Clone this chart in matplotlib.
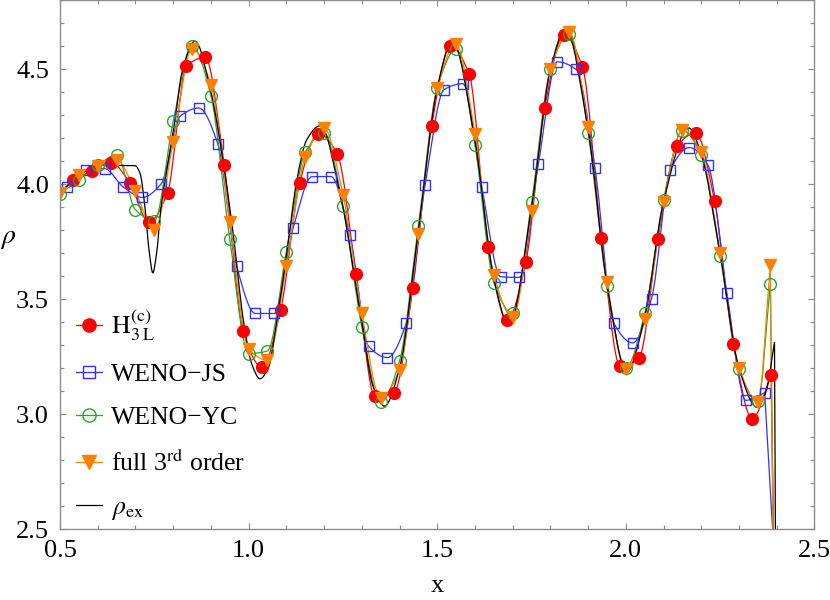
import numpy as np
import matplotlib
matplotlib.use('Agg')
import matplotlib.pyplot as plt
from matplotlib.path import Path
from matplotlib.patches import PathPatch
from matplotlib.lines import Line2D
from matplotlib.ticker import MultipleLocator, FormatStrFormatter

plt.rcParams['font.family'] = ['Liberation Serif', 'DejaVu Serif']
plt.rcParams['mathtext.fontset'] = 'stix'

# H_3L^(c) (red, filled circles)
h3l_x = [0.535, 0.585, 0.635, 0.685, 0.735, 0.785, 0.835, 0.885, 0.935, 0.985,
         1.035, 1.085, 1.135, 1.185, 1.235, 1.285, 1.335, 1.385, 1.435, 1.485,
         1.535, 1.585, 1.635, 1.685, 1.735, 1.785, 1.835, 1.885, 1.935, 1.985,
         2.035, 2.085, 2.135, 2.185, 2.235, 2.285, 2.335, 2.385]
h3l_y = [4.020, 4.059, 4.094, 4.007, 3.836, 3.963, 4.514, 4.553, 4.085, 3.363,
         3.205, 3.454, 4.005, 4.220, 4.133, 3.610, 3.077, 3.092, 3.547, 4.252,
         4.601, 4.478, 3.729, 3.409, 3.663, 4.332, 4.650, 4.510, 3.768, 3.208,
         3.246, 3.764, 4.165, 4.223, 3.928, 3.304, 2.980, 3.172]

# WENO-JS (blue, open squares)
js_x = [0.518, 0.568, 0.618, 0.668, 0.718, 0.768, 0.818, 0.868, 0.918, 0.968,
        1.018, 1.068, 1.118, 1.168, 1.218, 1.268, 1.318, 1.368, 1.418, 1.468,
        1.518, 1.568, 1.618, 1.668, 1.718, 1.768, 1.818, 1.868, 1.918, 1.968,
        2.018, 2.068, 2.118, 2.168, 2.218, 2.268, 2.318, 2.368]
js_y = [3.990, 4.063, 4.068, 3.988, 3.943, 4.002, 4.296, 4.332, 4.177, 3.646,
        3.438, 3.438, 3.809, 4.033, 4.034, 3.780, 3.295, 3.246, 3.397, 3.998,
        4.412, 4.438, 3.990, 3.598, 3.595, 4.089, 4.533, 4.500, 4.071, 3.397,
        3.310, 3.503, 4.063, 4.160, 4.082, 3.525, 3.060, 3.093]

# WENO-YC (green, open circles) and full 3rd order (orange, triangles)
yc_x = [0.50, 0.55, 0.60, 0.65, 0.70, 0.75, 0.80, 0.85, 0.90, 0.95,
        1.00, 1.05, 1.10, 1.15, 1.20, 1.25, 1.30, 1.35, 1.40, 1.45,
        1.50, 1.55, 1.60, 1.65, 1.70, 1.75, 1.80, 1.85, 1.90, 1.95,
        2.00, 2.05, 2.10, 2.15, 2.20, 2.25, 2.30, 2.35, 2.383]
yc_y = [3.958, 4.020, 4.082, 4.129, 3.889, 3.842, 4.274, 4.601, 4.386, 3.762,
        3.263, 3.275, 3.707, 4.139, 4.223, 3.906, 3.380, 3.052, 3.231, 3.819,
        4.420, 4.587, 4.172, 3.572, 3.438, 3.921, 4.503, 4.655, 4.223, 3.557,
        3.202, 3.438, 3.932, 4.234, 4.126, 3.688, 3.198, 3.055, 3.566]
f3_x = yc_x
f3_y = [3.964, 4.041, 4.078, 4.107, 3.969, 3.801, 4.182, 4.590, 4.434, 3.838,
        3.285, 3.234, 3.646, 4.119, 4.245, 3.954, 3.438, 3.071, 3.194, 3.783,
        4.417, 4.609, 4.219, 3.605, 3.421, 3.886, 4.500, 4.662, 4.248, 3.576,
        3.198, 3.412, 3.921, 4.235, 4.139, 3.703, 3.202, 3.052, 3.649]

# exact solution (black line)
ex_x = [0.500, 0.566, 0.619, 0.664, 0.699, 0.712, 0.725, 0.737, 0.746, 0.756,
        0.768, 0.780, 0.805, 0.823, 0.858, 0.899, 0.933, 0.960, 0.986, 1.008,
        1.030, 1.053, 1.075, 1.101, 1.128, 1.154, 1.190, 1.246, 1.300, 1.330,
        1.360, 1.400, 1.450, 1.500, 1.540, 1.600, 1.650, 1.690, 1.750, 1.800,
        1.840, 1.900, 1.950, 2.003, 2.050, 2.100, 2.167, 2.200, 2.250, 2.300,
        2.348, 2.372, 2.394]
ex_y = [3.965, 4.056, 4.085, 4.082, 4.081, 4.049, 3.903, 3.700, 3.615, 3.700,
        3.903, 4.030, 4.281, 4.485, 4.623, 4.410, 4.093, 3.772, 3.409, 3.220,
        3.154, 3.205, 3.409, 3.700, 4.020, 4.194, 4.255, 3.930, 3.400, 3.120,
        3.035, 3.200, 3.800, 4.420, 4.623, 4.190, 3.590, 3.387, 3.900, 4.500,
        4.675, 4.235, 3.565, 3.183, 3.425, 3.925, 4.245, 4.130, 3.695, 3.200,
        3.030, 3.100, 3.314]

# where each line leaves the plot at the shock
h3l_end = (2.393, 2.3)
js_end = (2.396, 2.3)
yc_end = (2.392, 2.3)
f3_end = (2.391, 2.3)
ex_end = (2.397, 2.3)
line_start = (0.500, 3.962)


def smooth_path(x, y, start=None, end=None):
    # monotone cubic (Fritsch-Carlson) through the points, drawn as bezier pieces
    x = np.asarray(x, float)
    y = np.asarray(y, float)
    h = np.diff(x)
    d = np.diff(y) / h
    m = np.empty(len(x))
    m[0], m[-1] = d[0], d[-1]
    for i in range(1, len(x) - 1):
        if d[i - 1] * d[i] <= 0:
            m[i] = 0.0
        else:
            w1 = 2 * h[i] + h[i - 1]
            w2 = h[i] + 2 * h[i - 1]
            m[i] = (w1 + w2) / (w1 / d[i - 1] + w2 / d[i])
    verts, codes = [], []
    if start is not None:
        verts += [start, (x[0], y[0])]
        codes += [Path.MOVETO, Path.LINETO]
    else:
        verts.append((x[0], y[0]))
        codes.append(Path.MOVETO)
    for i in range(len(x) - 1):
        verts += [(x[i] + h[i] / 3, y[i] + m[i] * h[i] / 3),
                  (x[i + 1] - h[i] / 3, y[i + 1] - m[i + 1] * h[i] / 3),
                  (x[i + 1], y[i + 1])]
        codes += [Path.CURVE4] * 3
    if end is not None:
        verts.append(end)
        codes.append(Path.LINETO)
    return Path(verts, codes)


fig = plt.figure(figsize=(8.3, 6.0), dpi=100)
ax = fig.add_axes([0.0723, 0.1183, 0.9090, 0.8809])

series = [
    (h3l_x, h3l_y, line_start, h3l_end, '#ff0000', 'o', 8.5, '#ff0000', r'$\mathrm{H}_{3\;\mathrm{L}}^{(\mathrm{c})}$'),
    (js_x, js_y, line_start, js_end, '#3030ff', 's', 7, 'none', 'WENO\u2212JS'),
    (yc_x, yc_y, None, yc_end, '#2aa52a', 'o', 8.5, 'none', 'WENO\u2212YC'),
    (f3_x, f3_y, None, f3_end, '#ff8000', 'v', 9, '#ff8000', r'full 3$^{\mathrm{rd}}$ order'),
]

handles = []
for xs, ys, st, en, col, mk, ms, fc, lab in series:
    ax.add_patch(PathPatch(smooth_path(xs, ys, st, en), fill=False, edgecolor=col, lw=0.9))
    ax.plot(xs, ys, ls='none', marker=mk, ms=ms, mfc=fc, mec=col, mew=1.0)
    handles.append(Line2D([], [], color=col, lw=0.9, marker=mk, ms=ms + 1, mfc=fc, mec=col, mew=1.0, label=lab))

ax.add_patch(PathPatch(smooth_path(ex_x, ex_y, None, ex_end), fill=False, edgecolor='black', lw=0.9))
handles.append(Line2D([], [], color='black', lw=0.9, label=r'$\rho_{\mathrm{ex}}$'))

ax.set_xlim(0.5, 2.5)
ax.set_ylim(2.5, 4.8)
ax.xaxis.set_major_locator(MultipleLocator(0.5))
ax.xaxis.set_minor_locator(MultipleLocator(0.1))
ax.yaxis.set_major_locator(MultipleLocator(0.5))
ax.yaxis.set_minor_locator(MultipleLocator(0.1))
ax.xaxis.set_major_formatter(FormatStrFormatter('%.1f'))
ax.yaxis.set_major_formatter(FormatStrFormatter('%.1f'))

for sp in ax.spines.values():
    sp.set_color('#8c8c8c')
    sp.set_linewidth(1.0)
ax.tick_params(which='both', direction='in', top=True, right=True, color='#8c8c8c', labelsize=19)
ax.tick_params(which='major', length=4.5, width=0.8, pad=8)
ax.tick_params(which='minor', length=3, width=0.8)

ax.set_xlabel('x', fontsize=19, labelpad=9)
ax.set_ylabel(r'$\rho$', fontsize=20, rotation=0, va='center')
ax.yaxis.set_label_coords(-0.069, 0.55)

ax.legend(handles=handles, loc='lower left', bbox_to_anchor=(0.001, -0.016), frameon=False,
          fontsize=18.5, handlelength=1.0, handletextpad=0.35, labelspacing=0.78, borderaxespad=0.2)

fig.savefig('out.png', dpi=100)
